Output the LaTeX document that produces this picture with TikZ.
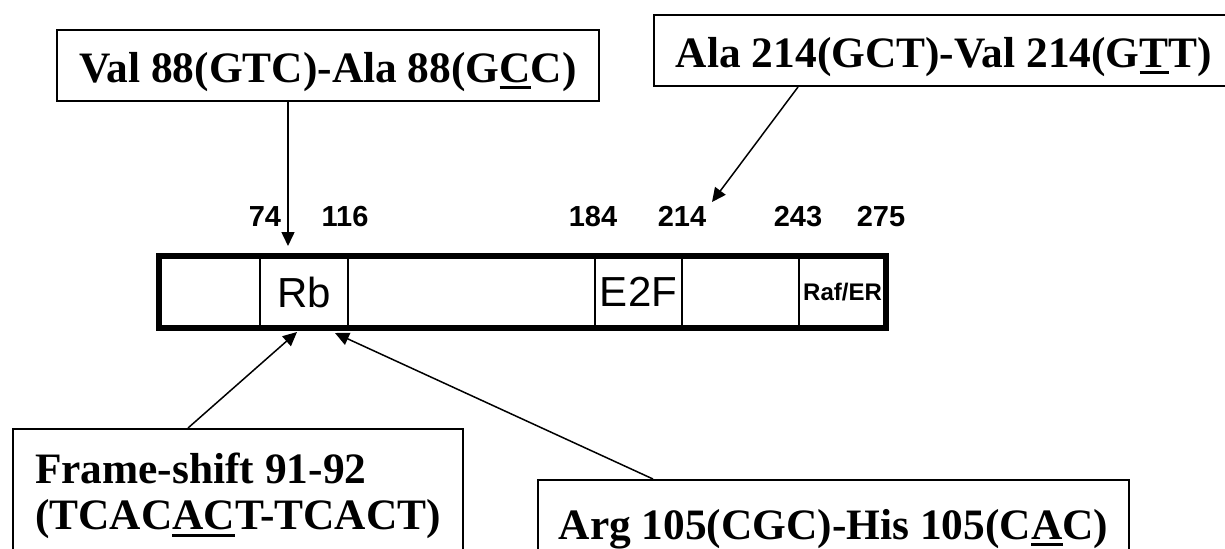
\documentclass[tikz,border=0pt]{standalone}
\usepackage{fontspec}
\setmainfont{Liberation Serif}
\newfontfamily\arialfont{Liberation Sans}
\usetikzlibrary{arrows.meta,positioning}

% thick underline for the changed base
\newcommand{\undl}[1]{\setbox0\hbox{#1}\rlap{\rule[-3.5pt]{\wd0}{1.5pt}}\box0}

\begin{document}
\begin{tikzpicture}[x=0.5pt,y=-0.5pt,
  mutbox/.style={draw,line width=1pt,inner xsep=0pt,inner ysep=0pt,
    text height=26pt,text depth=9.5pt,font=\bfseries\fontsize{21.7}{23}\selectfont},
  domline/.style={line width=1pt},
  posnum/.style={anchor=base,font=\arialfont\bfseries\fontsize{14.5}{16}\selectfont},
  hit/.style={line width=0.75pt,-{Triangle[length=7pt,width=6.5pt]}}]
\useasboundingbox (0,0) rectangle (1225,548);
\clip (0,0) rectangle (1225,548);
% mutation boxes
\node[mutbox,anchor=north west,minimum width=271pt] (val88) at (56,29)
  {Val 88(GTC)-Ala 88(G\undl{C}C)};
\node[mutbox,anchor=north west,minimum width=290pt] (ala214) at (653,14)
  {Ala 214(GCT)-Val 214(G\undl{T}T)};
\node[mutbox,anchor=north west,minimum width=295.5pt,text height=29.5pt] (arg105) at (537,479)
  {Arg 105(CGC)-His 105(C\undl{A}C)};
\node[draw,line width=1pt,anchor=north west,minimum width=225pt,inner xsep=10pt,inner ysep=12pt,
  align=left,font=\bfseries\fontsize{21.7}{23}\selectfont] (fs91) at (12,428)
  {Frame-shift 91-92\\(TCAC\undl{AC}T-TCACT)};
% protein bar
\node[draw,line width=3pt,minimum width=363.5pt,minimum height=36pt,inner sep=0pt] (bar) at (522.5,291.5) {};
\foreach \dx in {260,348,595,682,799}
  \draw[domline] (\dx,255.5) -- (\dx,327.5);
\node[font=\arialfont\fontsize{21}{24}\selectfont] (rb) at (304,292) {Rb};
\node[font=\arialfont\fontsize{21}{24}\selectfont] (e2f) at (638.5,292) {E2F};
\node[font=\arialfont\bfseries\fontsize{12}{14}\selectfont] (raf) at (842.5,292.5) {Raf/ER};
% positions
\foreach \px/\lab in {265/74,345/116,593/184,682/214,798/243,881/275}
  \node[posnum] (n\lab) at (\px,226) {\lab};
% arrows
\coordinate (t88) at (288,246);
\coordinate (t214) at (712,202);
\coordinate (t91) at (297,332);
\coordinate (t105) at (335,333);
\draw[hit] (val88.south -| t88) -- (t88);
\draw[hit] ([xshift=72.5pt]ala214.south west) -- (t214);
\draw[hit] ([xshift=88pt]fs91.north west) -- (t91);
\draw[hit] ([xshift=58pt]arg105.north west) -- (t105);
\end{tikzpicture}
\end{document}
